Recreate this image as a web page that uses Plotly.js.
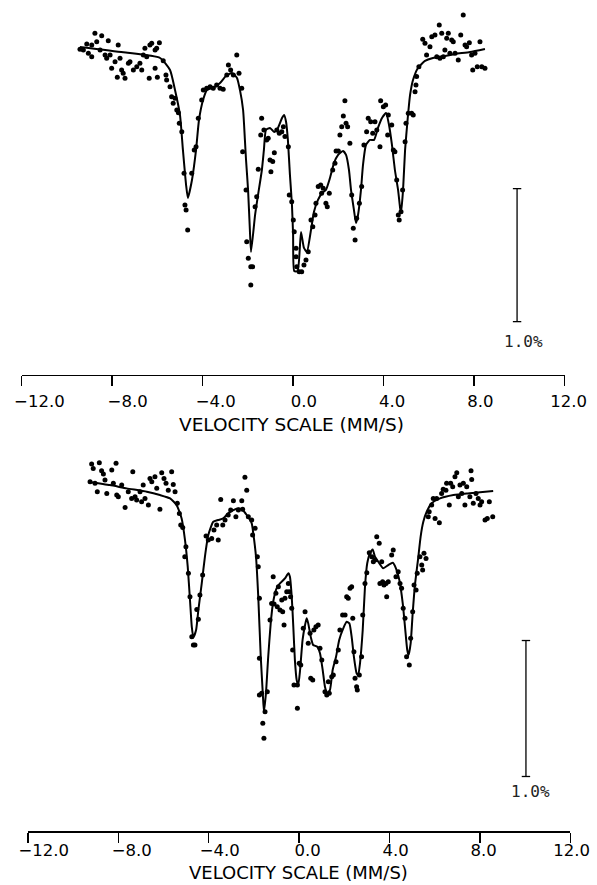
<!DOCTYPE html>
<html>
<head>
<meta charset="utf-8">
<script src="https://cdn.plot.ly/plotly-3.0.1.min.js"></script>
<style>
  html, body { margin: 0; padding: 0; background: #fff; }
  #chart { width: 597px; height: 885px; }
</style>
</head>
<body>
<div id="chart"></div>
<script>
// Mössbauer spectra: velocity (mm/s) vs relative transmission (%)

// ---- upper spectrum: measured points ----
const topVelocity = [
  -8.76,-8.46,-8.17,-9.12,-8.90,-8.68,-9.42,-9.27,-9.05,-8.90,
  -8.53,-8.31,-8.24,-8.09,-8.02,-7.87,-7.73,-7.65,-7.58,-7.51,
  -7.43,-7.77,-7.28,-7.21,-7.06,-6.91,-6.77,-6.69,-6.62,-6.47,
  -6.55,-6.33,-6.25,-6.10,-6.03,-5.91,-6.36,-6.10,-6.00,-5.74,
  -5.62,-5.59,-5.44,-5.37,-5.22,-5.30,-5.14,-5.07,-5.03,-4.92,
  -4.82,-4.48,-4.37,-4.29,-4.78,-4.73,-4.66,-4.19,-4.04,-3.97,
  -3.82,-3.67,-3.53,-3.38,-3.23,-3.09,-2.93,-2.86,-2.76,-2.64,
  -2.49,-2.39,-2.27,-2.23,-2.08,-2.05,-1.98,-1.87,-1.79,-1.87,
  -1.68,-1.61,-1.54,-1.43,-1.39,-1.29,-1.17,-1.10,-1.02,-0.90,
  -0.98,-0.83,-0.72,-0.61,-0.50,-0.43,-0.36,-0.21,-0.17,-0.06,
  0.01,0.05,0.13,0.13,0.16,0.27,0.38,0.48,0.57,0.67,
  0.79,0.87,0.97,1.01,1.11,1.22,1.33,1.26,1.45,1.51,
  1.60,1.75,1.85,1.90,2.00,2.07,2.15,2.22,2.29,2.34,
  2.41,2.51,2.59,2.66,2.74,2.81,2.93,3.03,3.13,3.25,
  3.32,3.43,3.52,3.62,3.70,3.84,3.87,3.99,4.09,4.18,
  4.21,4.36,4.43,4.50,4.58,4.65,4.69,4.77,4.84,4.95,
  4.99,5.09,5.24,5.31,5.39,5.43,5.46,5.56,5.73,5.83,
  5.90,6.05,6.13,6.27,6.35,6.46,6.57,6.71,6.79,6.86,
  7.01,7.08,7.16,7.30,7.41,7.52,7.60,7.67,7.79,7.89,
  7.94,8.04,8.14,8.26,8.34,8.48,6.64,6.93,6.49
];
const topTransmission = [
  100.088,100.070,100.032,100.008,100.000,100.025,99.968,99.962,99.938,99.912,
  99.962,99.925,99.900,99.925,99.825,99.874,100.000,99.900,99.812,99.787,
  99.750,99.757,99.862,99.874,99.812,99.837,99.862,99.812,99.925,99.912,
  99.975,100.000,100.013,99.962,99.975,100.017,99.750,99.825,99.757,99.882,
  99.774,99.737,99.686,99.611,99.599,99.562,99.511,99.491,99.411,99.348,
  99.035,99.035,99.211,99.235,98.797,98.759,98.609,99.449,99.586,99.662,
  99.674,99.686,99.674,99.699,99.674,99.667,99.774,99.850,99.812,99.774,
  99.925,99.787,99.674,99.198,98.910,98.521,98.396,98.333,98.333,98.195,
  98.784,98.859,99.065,99.323,99.449,99.361,99.286,99.298,99.135,99.123,
  99.047,99.190,99.361,99.336,99.348,99.386,99.311,99.235,98.872,98.822,
  98.684,98.596,98.471,98.408,98.333,98.295,98.295,98.346,98.383,98.446,
  98.684,98.634,98.722,98.810,98.935,98.947,98.923,98.885,98.810,98.784,
  98.885,99.060,99.110,99.203,99.203,99.323,99.386,99.466,99.581,99.411,
  99.386,99.261,98.872,98.622,98.534,98.697,98.810,98.935,99.248,99.348,
  99.449,99.423,99.336,99.423,99.361,99.235,99.581,99.536,99.549,99.323,
  99.474,99.398,99.211,99.198,98.985,98.722,98.684,98.747,98.910,99.273,
  99.411,99.486,99.486,99.474,99.649,99.699,99.762,99.837,100.043,100.013,
  99.925,99.987,100.062,100.075,99.912,100.150,100.088,99.962,100.050,100.088,
  100.038,100.025,99.938,99.887,100.075,100.226,100.000,99.987,100.017,99.925,
  99.812,99.938,99.837,100.025,99.837,99.825,99.912,99.938,99.900
];

// ---- upper spectrum: fitted curve ----
const topFitVelocity = [
  -9.42,-7.50,-5.88,-5.44,-5.22,-5.00,-4.87,-4.73,-4.65,-4.47,
  -4.29,-4.16,-3.98,-3.81,-3.54,-3.23,-2.97,-2.70,-2.48,-2.35,
  -2.21,-2.13,-2.08,-1.99,-1.91,-1.86,-1.68,-1.55,-1.38,-1.29,
  -1.20,-1.02,-0.84,-0.67,-0.49,-0.40,-0.31,-0.23,-0.14,-0.05,
  0.00,0.05,0.20,0.35,0.48,0.61,0.79,0.92,1.10,1.28,
  1.45,1.63,1.81,1.99,2.21,2.34,2.47,2.56,2.69,2.78,
  2.87,3.00,3.09,3.22,3.40,3.58,3.75,3.93,4.11,4.24,
  4.37,4.50,4.64,4.73,4.77,4.86,4.95,5.06,5.17,5.30,
  5.52,5.83,6.18,6.71,7.16,7.82,8.48
];
const topFitTransmission = [
  99.985,99.945,99.902,99.812,99.662,99.474,99.211,98.947,98.850,98.985,
  99.211,99.436,99.586,99.662,99.677,99.714,99.767,99.789,99.752,99.662,
  99.511,99.286,99.135,98.910,98.609,98.444,98.722,98.872,99.060,99.211,
  99.361,99.376,99.346,99.376,99.451,99.474,99.421,99.286,99.023,98.797,
  98.571,98.300,98.300,98.594,98.474,98.444,98.609,98.744,98.835,98.887,
  98.910,99.000,99.113,99.173,99.203,99.173,99.060,98.910,98.759,98.662,
  98.722,98.910,99.098,99.248,99.286,99.286,99.376,99.451,99.489,99.398,
  99.248,99.060,98.910,98.774,98.737,98.910,99.211,99.436,99.624,99.737,
  99.827,99.880,99.902,99.917,99.932,99.947,99.970
];

// ---- lower spectrum: measured points ----
const bottomVelocity = [
  -9.18,-9.11,-8.84,-8.74,-8.66,-8.29,-8.10,-9.25,-9.03,-8.93,
  -8.59,-8.51,-8.22,-8.07,-8.00,-7.85,-7.70,-7.56,-7.41,-7.36,
  -7.26,-7.19,-7.04,-6.97,-6.90,-6.82,-6.67,-6.60,-6.52,-6.38,
  -6.30,-6.16,-6.08,-5.98,-5.89,-5.79,-5.64,-5.57,-5.49,-5.39,
  -5.30,-5.24,-5.15,-5.01,-5.06,-4.90,-4.83,-4.75,-4.68,-4.61,
  -4.53,-4.46,-4.39,-4.27,-4.12,-4.02,-3.87,-3.77,-3.65,-3.58,
  -3.47,-3.38,-3.28,-3.14,-3.03,-2.91,-2.80,-2.69,-2.54,-2.50,
  -2.40,-2.32,-2.25,-2.10,-1.95,-2.06,-1.85,-1.81,-1.76,-1.76,
  -1.76,-1.66,-1.61,-1.51,-1.56,-1.41,-1.29,-1.22,-1.11,-1.15,
  -1.03,-0.92,-0.97,-0.85,-0.77,-0.73,-0.67,-0.63,-0.55,-0.48,
  -0.44,-0.38,-0.33,-0.29,-0.23,-0.08,-0.08,0.00,0.07,0.18,
  0.26,0.40,0.48,0.51,0.60,0.65,0.74,0.84,0.92,1.00,
  1.14,1.22,1.33,1.29,1.44,1.51,1.63,1.73,1.80,1.92,
  2.03,2.10,2.17,2.25,2.32,2.37,2.42,2.47,2.54,2.57,
  2.66,2.76,2.81,2.91,2.99,3.10,3.21,3.28,3.35,3.43,
  3.54,3.65,3.57,3.69,3.75,3.84,3.94,3.87,4.09,4.16,
  4.28,4.38,4.46,4.53,4.60,4.68,4.75,4.87,4.93,5.02,
  5.08,5.17,5.22,5.34,5.46,5.52,5.61,5.42,5.71,5.75,
  5.86,5.93,6.01,6.20,6.08,6.30,6.37,6.49,6.52,6.64,
  6.70,6.79,6.89,6.97,7.04,7.11,7.19,7.26,7.33,7.41,
  7.55,7.60,7.63,7.70,7.82,7.92,8.00,8.07,8.22,8.32,
  8.41,8.56
];
const bottomTransmission = [
  100.118,100.086,100.127,100.068,100.044,100.074,100.123,99.988,99.976,99.914,
  100.000,99.902,99.976,99.890,99.877,99.963,99.799,99.914,99.865,100.061,
  99.877,99.853,99.914,99.840,99.963,99.865,99.816,100.012,99.988,100.024,
  99.939,99.785,100.054,100.012,99.976,99.926,100.061,99.968,99.914,99.829,
  99.755,99.669,99.652,99.510,99.436,99.314,99.142,98.848,98.787,98.787,
  99.049,98.976,99.154,99.302,99.588,99.559,99.571,99.632,99.669,99.559,
  99.858,99.669,99.706,99.743,99.779,99.848,99.730,99.779,99.848,99.785,
  100.020,99.926,99.730,99.706,99.645,99.596,99.436,99.363,98.689,98.419,
  99.130,98.432,98.211,98.296,98.101,98.443,98.971,99.093,99.088,99.289,
  99.167,99.215,99.068,99.044,99.118,99.032,98.934,99.130,99.179,99.240,
  99.179,99.142,99.057,98.750,98.493,98.493,98.321,98.652,98.640,98.910,
  99.032,98.799,98.873,98.542,98.529,98.897,98.921,98.934,98.763,98.676,
  98.443,98.419,98.432,98.517,98.554,98.566,98.664,98.750,98.897,99.007,
  99.007,99.142,99.130,99.204,99.215,98.983,98.738,98.542,98.480,98.456,
  98.566,98.701,99.007,99.240,99.318,99.465,99.436,99.399,99.412,99.583,
  99.535,99.399,99.240,99.252,99.228,99.240,99.252,99.142,99.449,99.485,
  99.289,99.326,99.240,99.204,99.057,98.983,98.701,98.640,98.836,99.032,
  99.228,99.191,99.314,99.436,99.338,99.461,99.424,99.375,99.730,99.767,
  99.816,99.865,99.718,99.686,99.865,99.902,99.932,99.926,99.976,99.816,
  99.976,99.951,100.024,100.054,99.877,99.963,99.902,99.976,99.816,99.951,
  99.877,100.068,100.005,99.829,99.902,99.865,99.816,99.840,99.706,99.718,
  99.840,99.730
];

// ---- lower spectrum: fitted curve ----
const bottomFitVelocity = [
  -9.33,-8.37,-7.63,-6.74,-6.16,-5.71,-5.42,-5.20,-5.05,-4.93,
  -4.83,-4.75,-4.68,-4.56,-4.46,-4.31,-4.17,-4.02,-3.80,-3.58,
  -3.36,-3.14,-2.91,-2.69,-2.50,-2.32,-2.10,-2.03,-1.91,-1.81,
  -1.70,-1.61,-1.56,-1.47,-1.37,-1.26,-1.15,-1.00,-0.85,-0.63,
  -0.48,-0.41,-0.33,-0.26,-0.19,-0.11,-0.04,0.04,0.15,0.26,
  0.33,0.40,0.51,0.62,0.80,0.92,1.04,1.14,1.24,1.36,
  1.48,1.63,1.77,1.95,2.10,2.22,2.32,2.42,2.54,2.61,
  2.69,2.81,2.91,3.01,3.13,3.25,3.35,3.50,3.72,3.94,
  4.14,4.28,4.43,4.58,4.68,4.78,4.84,4.93,5.02,5.12,
  5.27,5.37,5.49,5.64,5.86,6.23,6.82,7.41,8.00,8.58
];
const bottomFitTransmission = [
  99.988,99.963,99.939,99.914,99.890,99.865,99.816,99.718,99.559,99.363,
  99.118,98.921,98.843,98.897,99.044,99.240,99.436,99.596,99.693,99.706,
  99.718,99.755,99.779,99.792,99.779,99.743,99.682,99.608,99.436,99.142,
  98.701,98.432,98.296,98.432,98.701,98.946,99.105,99.204,99.240,99.277,
  99.314,99.289,99.142,98.921,98.676,98.529,98.493,98.603,98.824,98.934,
  98.983,98.946,98.848,98.787,98.774,98.726,98.603,98.480,98.432,98.456,
  98.603,98.701,98.824,98.910,98.958,98.946,98.848,98.701,98.579,98.566,
  98.652,98.897,99.215,99.388,99.461,99.490,99.436,99.399,99.351,99.375,
  99.392,99.351,99.265,99.093,98.921,98.750,98.713,98.799,99.020,99.228,
  99.436,99.583,99.693,99.767,99.829,99.865,99.890,99.902,99.910,99.919
];

// ---- axis ticks, titles, scale bars ----
const tickValues = [-12, -8, -4, 0, 4, 8, 12];
const tickLabels = ['\u221212.0', '\u22128.0', '\u22124.0', '0.0', '4.0', '8.0', '12.0'];
const axisTitle = 'VELOCITY SCALE (MM/S)';
const scaleSpan = 1.0;            // percent
const scaleLabel = '1.0%';
const topBarVelocity = 9.90;
const topBarHigh = 98.92;
const bottomBarVelocity = 10.03;
const bottomBarHigh = 98.82;

const FONT = 'DejaVu Sans, Arial, sans-serif';
const INK = '#000';

function pointsTrace(x, y, xa, ya) {
  return { x, y, xaxis: xa, yaxis: ya, type: 'scatter', mode: 'markers',
    marker: { size: 5, color: INK }, hoverinfo: 'skip', cliponaxis: false };
}
function fitTrace(x, y, xa, ya) {
  return { x, y, xaxis: xa, yaxis: ya, type: 'scatter', mode: 'lines',
    line: { color: INK, width: 2, shape: 'spline', smoothing: 0.5 }, hoverinfo: 'skip' };
}
function barTrace(v, high, xa, ya) {
  return { x: [v, v], y: [high, high - scaleSpan], xaxis: xa, yaxis: ya,
    type: 'scatter', mode: 'lines+markers',
    line: { color: INK, width: 1.3 },
    marker: { symbol: 'line-ew', size: 6, line: { width: 1.3, color: INK } },
    hoverinfo: 'skip', cliponaxis: false };
}
// empty trace that keeps a label-only axis in the figure
function holderTrace(xa, ya) {
  return { x: [], y: [], xaxis: xa, yaxis: ya, type: 'scatter', mode: 'markers', hoverinfo: 'skip' };
}

const data = [
  pointsTrace(topVelocity, topTransmission, 'x', 'y'),
  fitTrace(topFitVelocity, topFitTransmission, 'x', 'y'),
  barTrace(topBarVelocity, topBarHigh, 'x', 'y'),
  pointsTrace(bottomVelocity, bottomTransmission, 'x2', 'y2'),
  fitTrace(bottomFitVelocity, bottomFitTransmission, 'x2', 'y2'),
  barTrace(bottomBarVelocity, bottomBarHigh, 'x2', 'y2'),
  holderTrace('x3', 'y'),
  holderTrace('x4', 'y2')
];

// axis carrying the line and tick marks
function lineAxis(domain, anchor) {
  return { domain, anchor, range: [-12, 12], fixedrange: true,
    showline: true, linecolor: INK, linewidth: 1.5, mirror: false,
    ticks: 'outside', ticklen: 10, tickwidth: 1.4, tickcolor: INK,
    tickmode: 'array', tickvals: tickValues, showticklabels: false,
    showgrid: false, zeroline: false };
}
// companion axis carrying the numeric tick labels
function labelAxis(domain, anchor, drop) {
  return { domain, anchor, range: [-12, 12], fixedrange: true,
    showline: false, ticks: 'outside', ticklen: drop, tickcolor: 'rgba(0,0,0,0)',
    tickmode: 'array', tickvals: tickValues, ticktext: tickLabels, showticklabels: true,
    tickfont: { family: FONT, size: 16.5, color: INK },
    showgrid: false, zeroline: false };
}

const layout = {
  width: 597, height: 885,
  margin: { l: 0, r: 0, t: 0, b: 0 },
  paper_bgcolor: '#fff', plot_bgcolor: 'rgba(0,0,0,0)',
  showlegend: false,
  xaxis: lineAxis([0.0362, 0.9457], 'y'),
  yaxis: { domain: [0.5763, 1.0], range: [97.519, 100.338], visible: false, anchor: 'x', fixedrange: true },
  xaxis2: lineAxis([0.0467, 0.9556], 'y2'),
  yaxis2: { domain: [0.0610, 0.4915], range: [97.419, 100.221], visible: false, anchor: 'x2', fixedrange: true },
  xaxis3: labelAxis([0.0660, 0.9524], 'y', 11),
  xaxis4: labelAxis([0.0732, 0.9576], 'y2', 4),
  annotations: [
    { xref: 'paper', yref: 'paper', x: 0.4891, y: 0.5200, text: axisTitle, showarrow: false,
      xanchor: 'center', yanchor: 'middle', font: { family: FONT, size: 18.5, color: INK } },
    { xref: 'paper', yref: 'paper', x: 0.5000, y: 0.0140, text: axisTitle, showarrow: false,
      xanchor: 'center', yanchor: 'middle', font: { family: FONT, size: 18, color: INK } },
    { xref: 'x', yref: 'y', x: topBarVelocity, y: topBarHigh - scaleSpan, text: scaleLabel,
      showarrow: false, xanchor: 'center', yanchor: 'top', xshift: 6, yshift: -8,
      font: { family: 'DejaVu Sans Mono, monospace', size: 16, color: '#222' } },
    { xref: 'x2', yref: 'y2', x: bottomBarVelocity, y: bottomBarHigh - scaleSpan, text: scaleLabel,
      showarrow: false, xanchor: 'center', yanchor: 'top', xshift: 5, yshift: -4,
      font: { family: 'DejaVu Sans Mono, monospace', size: 16, color: '#222' } }
  ]
};

Plotly.newPlot('chart', data, layout, { staticPlot: true, displayModeBar: false });
</script>
</body>
</html>
